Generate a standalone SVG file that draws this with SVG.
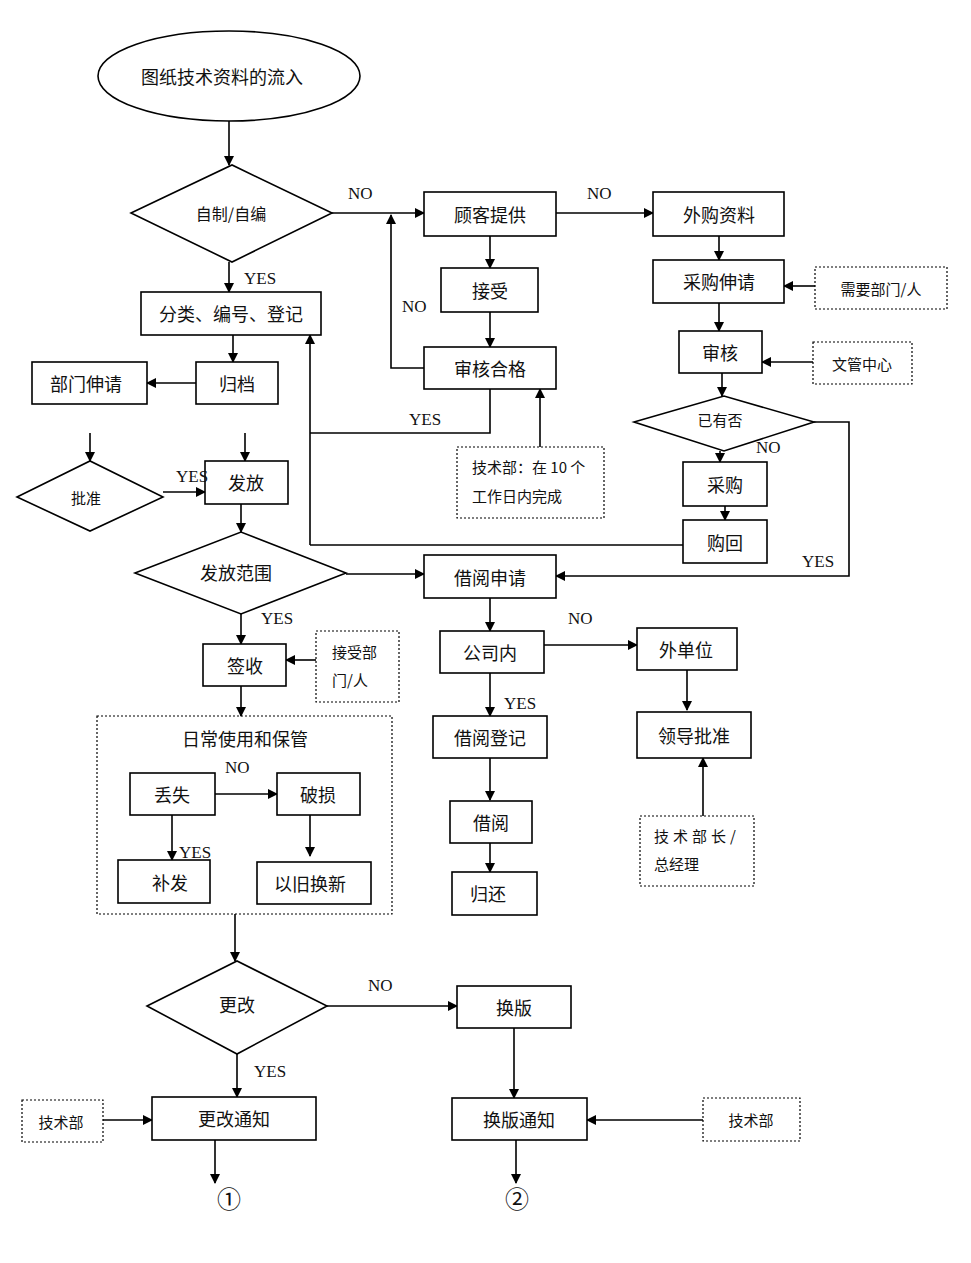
<svg xmlns="http://www.w3.org/2000/svg" width="971" height="1263" viewBox="0 0 971 1263">
<style>
.b{fill:#fff;stroke:#000;stroke-width:1.6}
.d{fill:none;stroke:#000;stroke-width:1.2;stroke-dasharray:2,2}
.t{font-family:"Noto Sans CJK SC","Liberation Serif",serif;font-size:18px;text-anchor:middle;dominant-baseline:central;fill:#111}
.s{font-family:"Noto Sans CJK SC",serif;font-size:15px;fill:#111}
.l{font-family:"Liberation Serif",serif;font-size:17px;fill:#111}
.c path{fill:none;stroke:#000;stroke-width:1.6;marker-end:url(#a)}
.c path.n{marker-end:none}
</style>
<defs><marker id="a" markerWidth="10" markerHeight="10" refX="9" refY="5" orient="auto" markerUnits="userSpaceOnUse"><path d="M0,0 L10,5 L0,10 z" fill="#000"/></marker></defs>
<g class="c">
<path d="M229,121V165"/><path d="M332,213H424"/><path d="M490,236V268"/><path d="M490,312V347"/>
<path d="M424,368H391V215"/><path class="n" d="M490,389V433H310"/><path d="M310,545V335"/>
<path d="M540,447V389"/><path d="M556,213H653"/><path d="M719,236V260"/><path d="M815,286H784"/>
<path d="M719,303V331"/><path d="M813,362H762"/><path d="M722,373V396"/><path d="M720,451V462"/>
<path d="M725,506V520"/><path d="M814,422H849V576H556"/><path class="n" d="M683,545H310"/>
<path d="M229,262V292"/><path d="M233,335V362"/><path d="M196,383H147"/>
<path d="M90,433V461"/><path d="M245,433V461"/><path d="M163,492H205"/><path d="M241,504V532"/>
<path d="M346,574H424"/><path d="M241,614V644"/><path d="M316,660H286"/><path d="M241,686V716"/>
<path d="M215,794H277"/><path d="M172,815V860"/><path d="M310,815V856"/>
<path d="M235,914V961"/><path d="M327,1006H457"/><path d="M514,1028V1098"/><path d="M703,1120H587"/>
<path d="M516,1140V1183"/><path d="M237,1054V1097"/><path d="M103,1120H152"/><path d="M215,1140V1183"/>
<path d="M490,598V631"/><path d="M544,645H637"/><path d="M687,670V710"/><path d="M703,816V758"/>
<path d="M490,673V716"/><path d="M490,758V800"/><path d="M490,843V872"/>
</g>
<g id="start"><ellipse class="b" cx="229" cy="76" rx="131" ry="45"/><text class="t" x="222" y="76">图纸技术资料的流入</text></g>
<g id="zizhi"><polygon class="b" points="131,213 232,165 332,213 232,262"/><text class="t" x="231" y="213" style="font-size:16px">自制/自编</text></g>
<g id="guke"><rect class="b" x="424" y="192" width="132" height="44"/><text class="t" x="490" y="214">顾客提供</text></g>
<g id="jieshou"><rect class="b" x="441" y="268" width="97" height="44"/><text class="t" x="490" y="290">接受</text></g>
<g id="shenhehege"><rect class="b" x="424" y="347" width="132" height="42"/><text class="t" x="490" y="368">审核合格</text></g>
<g id="jsb1"><rect class="d" x="457" y="447" width="147" height="71"/><text class="s" x="472" y="473">技术部：在 10 个</text><text class="s" x="472" y="502">工作日内完成</text></g>
<g id="waigou"><rect class="b" x="653" y="192" width="131" height="44"/><text class="t" x="719" y="214">外购资料</text></g>
<g id="caigoushen"><rect class="b" x="653" y="260" width="131" height="43"/><text class="t" x="719" y="281">采购伸请</text></g>
<g id="xuyao"><rect class="d" x="815" y="267" width="132" height="42"/><text class="t" x="881" y="288" style="font-size:15px">需要部门/人</text></g>
<g id="shenhe"><rect class="b" x="679" y="331" width="83" height="42"/><text class="t" x="720" y="352">审核</text></g>
<g id="wenguan"><rect class="d" x="813" y="342" width="99" height="42"/><text class="t" x="862" y="363" style="font-size:15px">文管中心</text></g>
<g id="yiyou"><polygon class="b" points="634,422 724,396 814,422 724,451"/><text class="t" x="720" y="419" style="font-size:15px">已有否</text></g>
<g id="caigou"><rect class="b" x="683" y="462" width="84" height="44"/><text class="t" x="725" y="484">采购</text></g>
<g id="gouhui"><rect class="b" x="683" y="520" width="84" height="43"/><text class="t" x="725" y="542">购回</text></g>
<g id="fenlei"><rect class="b" x="141" y="292" width="180" height="43"/><text class="t" x="231" y="313">分类、编号、登记</text></g>
<g id="guidang"><rect class="b" x="196" y="362" width="82" height="42"/><text class="t" x="237" y="383">归档</text></g>
<g id="bumen"><rect class="b" x="32" y="362" width="115" height="42"/><text class="t" x="86" y="383">部门伸请</text></g>
<g id="pizhun"><polygon class="b" points="17,497 90,461 163,497 90,531"/><text class="t" x="86" y="497" style="font-size:15px">批准</text></g>
<g id="fafang"><rect class="b" x="205" y="461" width="83" height="43"/><text class="t" x="246" y="482">发放</text></g>
<g id="fanwei"><polygon class="b" points="135,573 241,532 346,573 241,614"/><text class="t" x="236" y="572">发放范围</text></g>
<g id="jieyueshen"><rect class="b" x="424" y="555" width="132" height="43"/><text class="t" x="490" y="577">借阅申请</text></g>
<g id="qianshou"><rect class="b" x="203" y="644" width="83" height="42"/><text class="t" x="245" y="665">签收</text></g>
<g id="jieshoubm"><rect class="d" x="316" y="631" width="83" height="71"/><text class="s" x="332" y="658">接受部</text><text class="s" x="332" y="686">门/人</text></g>
<g id="richang"><rect class="d" x="97" y="716" width="295" height="198"/><text class="t" x="245" y="738">日常使用和保管</text></g>
<g id="diushi"><rect class="b" x="130" y="773" width="85" height="42"/><text class="t" x="172" y="794">丢失</text></g>
<g id="posun"><rect class="b" x="277" y="773" width="83" height="42"/><text class="t" x="318" y="794">破损</text></g>
<g id="bufa"><rect class="b" x="118" y="860" width="92" height="43"/><text class="t" x="170" y="882">补发</text></g>
<g id="yijiu"><rect class="b" x="257" y="862" width="114" height="42"/><text class="t" x="310" y="883">以旧换新</text></g>
<g id="gonsinei"><rect class="b" x="440" y="631" width="104" height="42"/><text class="t" x="490" y="652">公司内</text></g>
<g id="waidanwei"><rect class="b" x="637" y="628" width="100" height="42"/><text class="t" x="686" y="649">外单位</text></g>
<g id="lingdao"><rect class="b" x="637" y="712" width="114" height="46"/><text class="t" x="694" y="735">领导批准</text></g>
<g id="bzhang"><rect class="d" x="640" y="816" width="114" height="70"/><text class="s" x="654" y="842" style="letter-spacing:4px">技术部长/</text><text class="s" x="654" y="870">总经理</text></g>
<g id="jieyuedj"><rect class="b" x="433" y="716" width="114" height="42"/><text class="t" x="490" y="737">借阅登记</text></g>
<g id="jieyue"><rect class="b" x="450" y="801" width="82" height="42"/><text class="t" x="491" y="822">借阅</text></g>
<g id="guihuan"><rect class="b" x="452" y="872" width="85" height="43"/><text class="t" x="488" y="893">归还</text></g>
<g id="genggai"><polygon class="b" points="147,1006 237,961 327,1006 237,1054"/><text class="t" x="237" y="1004">更改</text></g>
<g id="huanban"><rect class="b" x="457" y="986" width="114" height="42"/><text class="t" x="514" y="1007">换版</text></g>
<g id="huanbantz"><rect class="b" x="452" y="1098" width="135" height="42"/><text class="t" x="519" y="1119">换版通知</text></g>
<g id="jsb3"><rect class="d" x="703" y="1098" width="97" height="43"/><text class="t" x="751" y="1119" style="font-size:15px">技术部</text></g>
<g id="genggaitz"><rect class="b" x="152" y="1097" width="164" height="43"/><text class="t" x="234" y="1118">更改通知</text></g>
<g id="jsb2"><rect class="d" x="22" y="1100" width="81" height="42"/><text class="t" x="61" y="1121" style="font-size:15px">技术部</text></g>
<g id="end1"><text class="t" x="229" y="1197" style="font-size:24px">①</text></g>
<g id="end2"><text class="t" x="517" y="1197" style="font-size:24px">②</text></g>
<g id="labels">
<text class="l" x="348" y="199">NO</text><text class="l" x="587" y="199">NO</text><text class="l" x="402" y="312">NO</text>
<text class="l" x="244" y="284">YES</text><text class="l" x="409" y="425">YES</text><text class="l" x="756" y="453">NO</text>
<text class="l" x="802" y="567">YES</text><text class="l" x="176" y="482">YES</text><text class="l" x="261" y="624">YES</text>
<text class="l" x="225" y="773">NO</text><text class="l" x="179" y="858">YES</text><text class="l" x="568" y="624">NO</text>
<text class="l" x="504" y="709">YES</text><text class="l" x="368" y="991">NO</text><text class="l" x="254" y="1077">YES</text>
</g>
</svg>
